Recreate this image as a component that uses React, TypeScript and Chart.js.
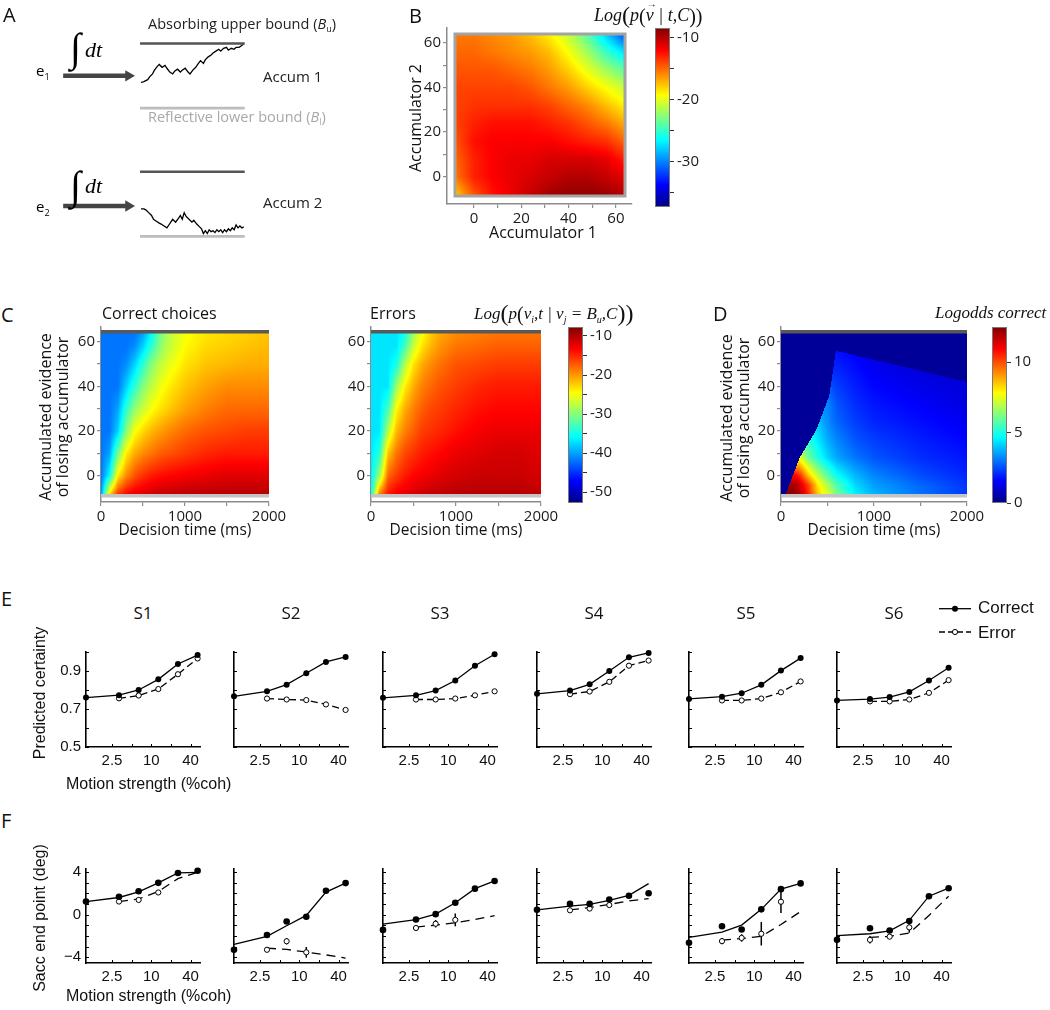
import React, { useEffect, useRef } from 'react';
import { Chart, registerables } from 'chart.js';

Chart.register(...registerables);

const SANS = '"Open Sans", "Noto Sans", "DejaVu Sans", sans-serif';
const ARIAL = '"Liberation Sans", Arial, Helvetica, sans-serif';
const SERIF = '"Liberation Serif", "DejaVu Serif", "Times New Roman", serif';

/* ================= Panel A (schematic traces) ================= */
const A_WALK1_X = [140,143,147,149,152,154,157,159,162,165,167,170,173,175,178,181,183,186,189,191,194,197,199,202,205,207,210,213,215,218,221,223,226,229,231,234,237,239,242,245,247];
const A_WALK1_Y = [80,79,77,74,71,67,63,61,64,62,65,69,71,68,66,69,67,65,69,71,67,64,61,57,60,56,53,51,49,47,45,47,44,43,46,44,45,43,43,41,39];
const A_WALK2_X = [140,143,145,148,151,153,156,159,161,164,167,169,171,173,176,179,181,183,185,187,190,193,195,198,201,203,205,207,209,211,213,215,217,219,221,223,225,227,229,231,233,235,237,239,241,243,245,247];
const A_WALK2_Y = [213,213,214,217,220,224,226,228,229,231,233,230,227,224,227,223,220,224,217,221,224,227,225,229,232,234,239,236,239,235,237,236,238,235,237,235,238,235,237,234,236,233,235,230,233,231,233,232];
const A_BOUND_X = [139, 248];
const A_UPPER_Y = [39, 174];
const A_LOWER_Y = [107, 242];
const A_ARROW_X = [59, 127];
const A_ARROW_Y = [73, 210];

/* ================= Panel B ================= */
const B_ACC1 = [-8, 0, 8, 16, 24, 32, 40, 48, 56, 64];
const B_ACC2 = [64, 56, 48, 40, 32, 24, 16, 8, 0, -8.5];
const B_LOGP = [
  [-15.5, -15.5, -16, -16.5, -17.5, -19, -21, -24, -28, -32],
  [-15, -15, -15.5, -16, -16.5, -17.5, -19.5, -22, -25, -27.5],
  [-14.5, -14.5, -14.5, -15, -15.5, -16.5, -18, -20, -22, -24],
  [-14, -14, -14, -14, -14.5, -15.5, -16.5, -18, -19.5, -21],
  [-14, -13.5, -13.5, -13.5, -13.5, -14, -15, -16, -17.5, -19],
  [-14, -13, -12.5, -12.5, -12.5, -13, -13.5, -14.5, -15.5, -17],
  [-14.5, -12.5, -12, -12, -12, -12, -12.5, -13, -13.5, -15],
  [-15, -13, -12, -11.5, -11.5, -11, -11, -11, -11.5, -13],
  [-15.5, -13, -12, -11.5, -11, -10.5, -10, -10, -10.5, -11.5],
  [-18, -14.5, -12.5, -11.5, -10.5, -9.5, -9, -9, -9.2, -10],
];
const B_CRANGE = [-37.3, -8.5];
const B_TICKS = [0, 10, 20, 30, 40, 50, 60];
const B_CB_TICKS = [-35, -30, -25, -20, -15, -10];

/* ================= Panel C ================= */
const C_TIME = [0, 100, 200, 300, 400, 500, 600, 700, 800, 1000, 1250, 1500, 1750, 2000];
const C_EVID = [64, 58, 50, 40, 30, 20, 10, 0, -9];
const C_CORRECT = [
  [-42, -42, -42, -42, -42, -40, -36, -31, -28, -25, -23.5, -23, -22.5, -22],
  [-42, -42, -42, -42, -41, -38, -34, -30, -27.5, -24.5, -23, -22.5, -22, -21.5],
  [-42, -42, -42, -41, -38, -34, -30, -27.5, -26, -23.5, -22, -21.5, -21, -21],
  [-42, -42, -42, -38, -34, -30, -27.5, -25.5, -24, -22, -20.5, -19.5, -19.5, -19.5],
  [-42, -42, -40, -34, -29.5, -27, -25, -23.5, -22.5, -20.5, -19, -18, -18, -18],
  [-42, -42, -38, -30, -25, -23, -21.5, -20.5, -19.5, -18, -17, -16.5, -16, -16],
  [-42, -40, -31, -24, -21, -19.5, -18.5, -17.5, -17, -16, -15, -14.5, -14.5, -14.5],
  [-42, -36, -24, -19.5, -17, -15.5, -14.5, -14, -13.5, -13, -12.5, -12, -12, -12],
  [-41, -22, -15, -13, -12, -11.5, -11, -10.5, -10.5, -10, -10, -10, -10, -10],
];
const C_ERRORS = [
  [-37, -37, -37, -37, -35, -29, -25, -22.5, -21, -19.5, -19, -18.5, -18.5, -18.5],
  [-37, -37, -37, -37, -33, -27, -23.5, -21.5, -20, -18.5, -18, -17.5, -17.5, -17.5],
  [-37, -37, -37, -35, -28, -23.5, -21, -19.5, -18.5, -17, -16.5, -16, -16, -16],
  [-37, -37, -37, -29, -24, -21, -19, -18, -17, -16, -15, -14.5, -14.5, -14.5],
  [-37, -37, -33, -24.5, -21, -19, -17.5, -16.5, -16, -15, -14, -13.5, -13.5, -13.5],
  [-37, -37, -28, -21.5, -19, -17.5, -16, -15.5, -15, -14, -13, -12.5, -12.5, -12.5],
  [-37, -34, -22, -18.5, -16.5, -15.5, -14.5, -14, -13.5, -12.5, -12, -11.5, -11.5, -12],
  [-37, -29, -18, -16, -14.5, -13.5, -13, -12.5, -12, -11.5, -11, -11, -11, -11.5],
  [-36, -18, -14, -12.5, -12, -11.5, -11, -10.5, -10.5, -10, -10, -10, -10, -10.5],
];
const C_CRANGE = [-52.8, -7.7];
const C_CB_TICKS = [-50, -45, -40, -35, -30, -25, -20, -15, -10];

/* ================= Panel D ================= */
const D_TIME = [0, 50, 100, 150, 200, 250, 300, 400, 500, 600, 800, 1000, 1500, 2000];
const D_EVID = [64, 56, 48, 40, 32, 24, 16, 8, 0, -4, -9];
const D_LOGODDS = [
  [1.5, 1.5, 1.5, 1.5, 1.5, 1.5, 1.5, 1.5, 1.5, 1.5, 1.3, 1.1, 0.8, 0.7],
  [1.7, 1.7, 1.7, 1.7, 1.7, 1.7, 1.7, 1.7, 1.7, 1.7, 1.5, 1.2, 0.9, 0.8],
  [2.0, 2.0, 2.0, 2.0, 2.0, 2.0, 2.0, 2.0, 2.0, 2.0, 1.7, 1.4, 1.1, 0.9],
  [2.7, 2.7, 2.7, 2.7, 2.7, 2.7, 2.7, 2.7, 2.7, 2.3, 1.9, 1.6, 1.3, 1.1],
  [3.2, 3.2, 3.2, 3.2, 3.2, 3.2, 3.2, 3.2, 3.2, 2.6, 2.1, 1.8, 1.5, 1.2],
  [4.0, 4.0, 4.0, 4.0, 4.0, 4.0, 4.0, 4.0, 3.3, 2.8, 2.3, 2.0, 1.7, 1.4],
  [5.2, 5.2, 5.2, 5.2, 5.2, 5.2, 5.2, 4.4, 3.7, 3.2, 2.6, 2.3, 1.9, 1.6],
  [7.5, 7.5, 7.5, 7.5, 7.5, 6.8, 6.0, 5.0, 4.2, 3.6, 3.0, 2.6, 2.1, 1.8],
  [11, 11, 11, 11, 10.5, 9.5, 8.5, 7.0, 5.8, 4.8, 3.8, 3.2, 2.5, 2.0],
  [12, 12, 12, 12, 11.5, 10.8, 10, 8.0, 6.8, 5.6, 4.2, 3.5, 2.8, 2.2],
  [12.5, 12.5, 12.5, 12.3, 12, 11.3, 10.5, 8.5, 7.5, 6.2, 4.6, 3.8, 3.0, 2.3],
];
const D_EDGE_TIME = [45, 200, 380, 520, 590, 2000];
const D_EDGE_EVID = [-9, 8, 20.5, 36, 56, 42];
const D_OUTSIDE = 0.3;
const D_CRANGE = [0, 12.5];
const D_CB_TICKS = [0, 5, 10];
const CD_X_TICKS = [0, 500, 1000, 1500, 2000];
const CD_Y_TICKS = [0, 10, 20, 30, 40, 50, 60];

/* ================= Panels E & F ================= */
const SUBJECTS = ['S1', 'S2', 'S3', 'S4', 'S5', 'S6'];
const COH = [0, 3.2, 6.4, 12.8, 25.6, 51.2];
const COH_ERR = [3.2, 6.4, 12.8, 25.6, 51.2];
const X_TICK_VALUES = [2.5, 5, 10, 20, 40];
const X_TICK_LABELS = ['2.5', '', '10', '', '40'];
const E_Y_TICKS = [0.5, 0.6, 0.7, 0.8, 0.9, 1.0];
const E_Y_LABELS = ['0.5', '', '0.7', '', '0.9', ''];
const F_Y_TICKS = [-4, -3, -2, -1, 0, 1, 2, 3, 4];
const F_Y_LABELS = ['\u22124', '', '', '', '0', '', '', '', '4'];

const E_CORRECT = [
  [0.76, 0.773, 0.80, 0.856, 0.937, 0.984],
  [0.767, 0.793, 0.828, 0.888, 0.948, 0.974],
  [0.759, 0.772, 0.797, 0.85, 0.928, 0.988],
  [0.78, 0.797, 0.83, 0.9, 0.972, 0.995],
  [0.753, 0.765, 0.783, 0.827, 0.902, 0.968],
  [0.745, 0.752, 0.763, 0.79, 0.85, 0.917],
];
const E_ERROR = [
  [0.756, 0.771, 0.805, 0.883, 0.966],
  [0.755, 0.75, 0.747, 0.724, 0.695],
  [0.75, 0.75, 0.755, 0.772, 0.793],
  [0.778, 0.792, 0.843, 0.928, 0.955],
  [0.745, 0.745, 0.755, 0.788, 0.845],
  [0.74, 0.74, 0.75, 0.785, 0.852],
];
const F_CORRECT_MODEL = [
  [1.22, 1.6, 2.13, 2.97, 3.9, 3.95],
  [-2.8, -2.04, -1.05, -0.08, 2.1, 2.95],
  [-0.9, -0.47, 0.04, 1.1, 2.43, 3.15],
  [0.44, 0.8, 0.95, 1.34, 1.8, 2.9],
  [-2.13, -1.64, -0.99, 0.49, 2.38, 2.92],
  [-1.98, -1.8, -1.53, -0.54, 1.72, 2.47],
];
const F_CORRECT_DATA = [
  [1.22, 1.67, 2.19, 2.97, 3.9, 4.1],
  [-3.3, -1.92, -0.65, -0.2, 2.23, 2.95],
  [-1.44, -0.47, 0.04, 1.1, 2.43, 3.15],
  [0.44, 1.0, 1.0, 1.4, 1.76, 2.0],
  [-2.64, -1.1, -1.4, 0.49, 2.38, 2.92],
  [-2.37, -1.29, -1.5, -0.6, 1.72, 2.47],
];
const F_ERROR_MODEL = [
  [1.22, 1.46, 2.16, 3.37, 3.97],
  [-3.15, -3.27, -3.51, -3.78, -4.08],
  [-1.17, -1.0, -0.77, -0.47, -0.1],
  [0.44, 0.65, 0.95, 1.28, 1.5],
  [-2.4, -2.25, -2.04, -0.93, 0.28],
  [-2.13, -2.04, -1.74, -0.08, 1.72],
];
const F_ERROR_DATA = [
  [1.22, 1.37, 2.07],
  [-3.3, -2.5, -3.54],
  [-1.26, -0.86, -0.5],
  [0.4, 0.56, 0.89],
  [-2.49, -2.19, -1.8, 1.2],
  [-2.37, -2.07, -1.2],
];
const F_ERROR_SEM = [
  [0.1, 0.22, 0.22],
  [0.1, 0.3, 0.5],
  [0.15, 0.35, 0.6],
  [0.1, 0.12, 0.12],
  [0.3, 0.35, 1.1, 1.05],
  [0.35, 0.22, 0.5],
];

/* ================= layout constants ================= */
const EF_LEFTS = [86, 234, 383, 537, 689, 837];
const EF_W = 114;
const E_TOP = 648, E_BOTTOM = 747;
const F_TOP = 865, F_BOTTOM = 963;

/* ================= helpers ================= */
const clamp01 = (v: number) => (v < 0 ? 0 : v > 1 ? 1 : v);
function jet(t: number) {
  t = clamp01(t);
  return [
    Math.round(255 * clamp01(1.5 - Math.abs(4 * t - 3))),
    Math.round(255 * clamp01(1.5 - Math.abs(4 * t - 2))),
    Math.round(255 * clamp01(1.5 - Math.abs(4 * t - 1))),
  ];
}
const JET_STOPS: [number, string][] = [
  [0, 'rgb(0,0,128)'], [0.125, 'rgb(0,0,255)'], [0.375, 'rgb(0,255,255)'],
  [0.625, 'rgb(255,255,0)'], [0.875, 'rgb(255,0,0)'], [1, 'rgb(128,0,0)'],
];
const xpos = (c: number) => (c === 0 ? 0 : Math.log2(c));

type Box = { left: number; top: number; width: number; height: number };

function ChartCanvas({ box, make }: { box: Box; make: () => any }) {
  const ref = useRef<HTMLCanvasElement | null>(null);
  useEffect(() => {
    const chart = new Chart(ref.current as HTMLCanvasElement, make());
    return () => chart.destroy();
  }, []);
  return (
    <canvas
      ref={ref}
      width={box.width}
      height={box.height}
      style={{ position: 'absolute', left: box.left, top: box.top, width: box.width, height: box.height }}
    />
  );
}

function Txt({ x, y, anchor = 'left', rotate = false, style = {}, children }: any) {
  const tx = anchor === 'center' ? '-50%' : anchor === 'right' ? '-100%' : '0';
  return (
    <div
      style={{
        position: 'absolute', left: x, top: y, whiteSpace: 'pre', lineHeight: 1,
        transform: `translate(${rotate ? '-50%' : tx}, -50%)${rotate ? ' rotate(-90deg)' : ''}`,
        ...style,
      }}
    >
      {children}
    </div>
  );
}

const baseOptions = (padding: any) => ({
  responsive: false,
  animation: false,
  devicePixelRatio: 1,
  events: [],
  layout: { padding },
  plugins: { legend: { display: false }, tooltip: { enabled: false }, title: { display: false } },
});

/* ---------- heatmap ---------- */
function edgeAt(t: number, ET: number[], EY: number[]) {
  if (t < ET[0]) return -Infinity;
  for (let k = 0; k < ET.length - 1; k++) {
    if (t <= ET[k + 1]) return EY[k] + ((t - ET[k]) / (ET[k + 1] - ET[k])) * (EY[k + 1] - EY[k]);
  }
  return EY[EY.length - 1];
}

function makeHeatPlugin(spec: any) {
  return {
    id: 'heat',
    beforeDatasetsDraw(chart: any) {
      const ctx = chart.ctx;
      const sx = chart.scales.x, sy = chart.scales.y;
      const X = spec.xs, Y = spec.ys, V = spec.values;
      const px0 = Math.round(sx.getPixelForValue(X[0]));
      const px1 = Math.round(sx.getPixelForValue(X[X.length - 1]));
      const py0 = Math.round(sy.getPixelForValue(Y[0]));
      const py1 = Math.round(sy.getPixelForValue(Y[Y.length - 1]));
      const w = px1 - px0, h = py1 - py0;
      if (w <= 0 || h <= 0) return;
      const off = document.createElement('canvas');
      off.width = w; off.height = h;
      const octx = off.getContext('2d') as CanvasRenderingContext2D;
      const img = octx.createImageData(w, h);
      const ci: number[] = [], cf: number[] = [], ce: number[] = [];
      for (let i = 0; i < w; i++) {
        const vx = sx.getValueForPixel(px0 + i + 0.5);
        let c = 0;
        while (c < X.length - 2 && vx > X[c + 1]) c++;
        ci.push(c);
        cf.push(clamp01((vx - X[c]) / (X[c + 1] - X[c])));
        ce.push(spec.edgeT ? edgeAt(vx, spec.edgeT, spec.edgeY) : Infinity);
      }
      for (let j = 0; j < h; j++) {
        const vy = sy.getValueForPixel(py0 + j + 0.5);
        let r = 0;
        while (r < Y.length - 2 && vy < Y[r + 1]) r++;
        const fy = clamp01((Y[r] - vy) / (Y[r] - Y[r + 1]));
        for (let i = 0; i < w; i++) {
          let v: number;
          if (vy > ce[i]) {
            v = spec.outside;
          } else {
            const c = ci[i], fx = cf[i];
            const a = V[r][c] * (1 - fx) + V[r][c + 1] * fx;
            const b = V[r + 1][c] * (1 - fx) + V[r + 1][c + 1] * fx;
            v = a * (1 - fy) + b * fy;
          }
          const rgb = jet((v - spec.cmin) / (spec.cmax - spec.cmin));
          const k = (j * w + i) * 4;
          img.data[k] = rgb[0]; img.data[k + 1] = rgb[1]; img.data[k + 2] = rgb[2]; img.data[k + 3] = 255;
        }
      }
      octx.putImageData(img, 0, 0);
      ctx.save();
      ctx.drawImage(off, px0, py0);
      if (spec.frame) {
        ctx.strokeStyle = '#a3a3a3';
        ctx.lineWidth = 3;
        ctx.strokeRect(px0, py0, w, h);
      }
      if (spec.bounds) {
        const yt = sy.getPixelForValue(Y[0]);
        const yb = sy.getPixelForValue(Y[Y.length - 1]);
        ctx.lineWidth = 3.5;
        ctx.strokeStyle = '#595959';
        ctx.beginPath(); ctx.moveTo(px0, yt - 1); ctx.lineTo(px1, yt - 1); ctx.stroke();
        ctx.strokeStyle = '#c4c4c4';
        ctx.beginPath(); ctx.moveTo(px0, yb); ctx.lineTo(px1, yb); ctx.stroke();
      }
      ctx.restore();
    },
  };
}

const HP = { l: 60, t: 16, r: 36, b: 40 };
const H_YW = 50, H_XH = 34;

function heatAxis(min: number, max: number, ticks: number[], every: number, isX: boolean) {
  return {
    type: 'linear', min, max,
    position: isX ? 'bottom' : 'left',
    afterBuildTicks: (s: any) => { s.ticks = ticks.map((v) => ({ value: v })); },
    afterFit: (s: any) => { if (isX) s.height = H_XH; else s.width = H_YW; },
    border: { display: true, color: '#8c8c8c', width: 1.5 },
    grid: { display: true, drawOnChartArea: false, drawTicks: true, tickLength: 4, color: '#8c8c8c', lineWidth: 1.2 },
    ticks: {
      autoSkip: false, maxRotation: 0, padding: 2, color: '#1a1a1a',
      font: { family: SANS, size: 15 },
      callback: (v: number) => (Math.abs(v % every) < 1e-9 ? String(v) : ''),
    },
  };
}

function heatChart(area: number[], spec: any, axes: any) {
  const [l, t, r, b] = area;
  const box = { left: l - HP.l, top: t - HP.t, width: r - l + HP.l + HP.r, height: b - t + HP.t + HP.b };
  const make = () => ({
    type: 'scatter',
    data: { datasets: [] },
    plugins: [makeHeatPlugin(spec)],
    options: {
      ...baseOptions({ left: HP.l - H_YW, top: HP.t, right: HP.r, bottom: HP.b - H_XH }),
      scales: {
        x: heatAxis(axes.xmin, axes.xmax, axes.xticks, axes.xevery, true),
        y: heatAxis(axes.ymin, axes.ymax, axes.yticks, axes.yevery, false),
      },
    },
  });
  return { box, make };
}

/* ---------- colour bar ---------- */
const CP = { l: 6, t: 16, r: 60, b: 16 };
function colorbar(area: number[], range: number[], ticks: number[], every: number) {
  const [l, t, r, b] = area;
  const box = { left: l - CP.l, top: t - CP.t, width: r - l + CP.l + CP.r, height: b - t + CP.t + CP.b };
  const plugin = {
    id: 'cbar',
    beforeDatasetsDraw(chart: any) {
      const { left, right, top, bottom } = chart.chartArea;
      const ctx = chart.ctx;
      const g = ctx.createLinearGradient(0, bottom, 0, top);
      JET_STOPS.forEach(([s, c]) => g.addColorStop(s, c));
      ctx.save();
      ctx.fillStyle = g;
      ctx.fillRect(left, top, right - left, bottom - top);
      ctx.strokeStyle = '#7a7a7a';
      ctx.lineWidth = 1;
      ctx.strokeRect(left + 0.5, top + 0.5, right - left - 1, bottom - top - 1);
      ctx.restore();
    },
  };
  const make = () => ({
    type: 'scatter',
    data: { datasets: [] },
    plugins: [plugin],
    options: {
      ...baseOptions({ left: CP.l, top: CP.t, right: CP.r - 50, bottom: CP.b }),
      scales: {
        x: { display: false, min: 0, max: 1 },
        y: {
          type: 'linear', position: 'right', min: range[0], max: range[1],
          afterBuildTicks: (s: any) => { s.ticks = ticks.map((v) => ({ value: v })); },
          afterFit: (s: any) => { s.width = 50; },
          border: { display: false },
          grid: { display: true, drawOnChartArea: false, drawTicks: true, tickLength: 4, color: '#333', lineWidth: 1 },
          ticks: {
            autoSkip: false, padding: 3, color: '#1a1a1a', font: { family: SANS, size: 15 },
            callback: (v: number) => (Math.abs(v % every) < 1e-9 ? String(v) : ''),
          },
        },
      },
    },
  });
  return { box, make };
}

/* ---------- E / F line charts ---------- */
const EP = { l: 46, t: 10, r: 14, b: 32 };
const EF_YW = 40, EF_XH = 28;

function efChart(kind: 'E' | 'F', s: number) {
  const isE = kind === 'E';
  const left = EF_LEFTS[s];
  const top = isE ? E_TOP : F_TOP;
  const bottom = isE ? E_BOTTOM : F_BOTTOM;
  const box = { left: left - EP.l, top: top - EP.t, width: EF_W + EP.l + EP.r, height: bottom - top + EP.t + EP.b };
  const yTicks = isE ? E_Y_TICKS : F_Y_TICKS;
  const yLabels = isE ? E_Y_LABELS : F_Y_LABELS;
  const showY = s === 0;

  const datasets: any[] = [];
  if (isE) {
    datasets.push({
      data: COH.map((c, i) => ({ x: xpos(c), y: E_CORRECT[s][i] })),
      showLine: true, borderColor: '#000', borderWidth: 1.3, pointRadius: 3,
      pointBackgroundColor: '#000', pointBorderWidth: 0, clip: false,
    });
    datasets.push({
      data: COH_ERR.map((c, i) => ({ x: xpos(c), y: E_ERROR[s][i] })),
      showLine: true, borderColor: '#000', borderWidth: 1.3, borderDash: [7, 4], pointRadius: 2.6,
      pointBackgroundColor: '#fff', pointBorderColor: '#000', pointBorderWidth: 1, clip: false,
    });
  } else {
    datasets.push({
      data: COH.map((c, i) => ({ x: xpos(c), y: F_CORRECT_DATA[s][i] })),
      showLine: false, pointRadius: 3.3, pointBackgroundColor: '#000', pointBorderWidth: 0, clip: false,
    });
    datasets.push({
      data: F_ERROR_DATA[s].map((v, i) => ({ x: xpos(COH_ERR[i]), y: v })),
      showLine: false, pointRadius: 2.6, pointBackgroundColor: '#fff', pointBorderColor: '#000',
      pointBorderWidth: 1, clip: false,
    });
    datasets.push({
      data: COH.map((c, i) => ({ x: xpos(c), y: F_CORRECT_MODEL[s][i] })),
      showLine: true, borderColor: '#000', borderWidth: 1.3, pointRadius: 0, clip: false,
    });
    datasets.push({
      data: COH_ERR.map((c, i) => ({ x: xpos(c), y: F_ERROR_MODEL[s][i] })),
      showLine: true, borderColor: '#000', borderWidth: 1.3, borderDash: [9, 6], pointRadius: 0, clip: false,
    });
  }

  const plugin = {
    id: 'efextra',
    beforeDatasetsDraw(chart: any) {
      const ctx = chart.ctx;
      const sx = chart.scales.x, sy = chart.scales.y;
      const { left: L, bottom: B } = chart.chartArea;
      ctx.save();
      ctx.strokeStyle = '#000';
      ctx.lineWidth = 1;
      X_TICK_VALUES.forEach((v) => {
        const p = Math.round(sx.getPixelForValue(Math.log2(v))) + 0.5;
        ctx.beginPath(); ctx.moveTo(p, B); ctx.lineTo(p, B - 3); ctx.stroke();
      });
      yTicks.forEach((v) => {
        const p = Math.round(sy.getPixelForValue(v)) + 0.5;
        ctx.beginPath(); ctx.moveTo(L, p); ctx.lineTo(L + 3, p); ctx.stroke();
      });
      if (!isE) {
        ctx.lineWidth = 1.5;
        F_ERROR_DATA[s].forEach((v, i) => {
          const e = F_ERROR_SEM[s][i];
          const px = sx.getPixelForValue(xpos(COH_ERR[i]));
          ctx.beginPath();
          ctx.moveTo(px, sy.getPixelForValue(v - e));
          ctx.lineTo(px, sy.getPixelForValue(v + e));
          ctx.stroke();
        });
      }
      ctx.restore();
    },
  };

  const make = () => ({
    type: 'scatter',
    data: { datasets },
    plugins: [plugin],
    options: {
      ...baseOptions({ left: EP.l - EF_YW, top: EP.t, right: EP.r, bottom: EP.b - EF_XH }),
      scales: {
        x: {
          type: 'linear', min: 0, max: 5.8,
          afterBuildTicks: (sc: any) => { sc.ticks = X_TICK_VALUES.map((v) => ({ value: Math.log2(v) })); },
          afterFit: (sc: any) => { sc.height = EF_XH; },
          border: { display: true, color: '#000', width: 1.6 },
          grid: { display: true, drawOnChartArea: false, drawTicks: false },
          ticks: {
            autoSkip: false, maxRotation: 0, padding: 5, color: '#111',
            font: { family: ARIAL, size: 15 },
            callback: (_v: number, i: number) => X_TICK_LABELS[i],
          },
        },
        y: {
          type: 'linear',
          min: isE ? 0.5 : -4.54, max: isE ? 1.0 : 4.27,
          afterBuildTicks: (sc: any) => { sc.ticks = yTicks.map((v) => ({ value: v })); },
          afterFit: (sc: any) => { sc.width = EF_YW; },
          border: { display: true, color: '#000', width: 1.6 },
          grid: { display: true, drawOnChartArea: false, drawTicks: false },
          ticks: {
            autoSkip: false, padding: 5, color: '#111',
            font: { family: ARIAL, size: 15 },
            callback: (_v: number, i: number) => (showY ? yLabels[i] : ''),
          },
        },
      },
    },
  });
  return { box, make };
}

/* ---------- Panel A chart ---------- */
function panelA() {
  const box = { left: 0, top: 0, width: 330, height: 260 };
  const line = (xs: number[], ys: number[], color: string, width: number) => ({
    data: xs.map((x, i) => ({ x, y: ys[i] })),
    showLine: true, borderColor: color, borderWidth: width, pointRadius: 0, clip: false,
  });
  const arrow = (y: number) => ({
    data: A_ARROW_X.map((x) => ({ x, y })),
    showLine: true, borderColor: '#444', borderWidth: 4.5, clip: false,
    pointRadius: [0, 6.5], pointStyle: 'triangle', rotation: 90,
    pointBackgroundColor: '#444', pointBorderWidth: 0,
  });
  const datasets = [
    line(A_BOUND_X, [A_UPPER_Y[0], A_UPPER_Y[0]], '#555', 2.6),
    line(A_BOUND_X, [A_LOWER_Y[0], A_LOWER_Y[0]], '#bdbdbd', 2.6),
    line(A_BOUND_X, [A_UPPER_Y[1], A_UPPER_Y[1]], '#555', 2.6),
    line(A_BOUND_X, [A_LOWER_Y[1], A_LOWER_Y[1]], '#bdbdbd', 2.6),
    line(A_WALK1_X, A_WALK1_Y, '#000', 1.3),
    line(A_WALK2_X, A_WALK2_Y, '#000', 1.3),
    arrow(A_ARROW_Y[0]),
    arrow(A_ARROW_Y[1]),
  ];
  const make = () => ({
    type: 'scatter',
    data: { datasets },
    options: {
      ...baseOptions(0),
      scales: {
        x: { display: false, min: 0, max: 330 },
        y: { display: false, min: 0, max: 260, reverse: true },
      },
    },
  });
  return { box, make };
}

/* ---------- legend chart (E) ---------- */
function legendChart() {
  const box = { left: 936, top: 598, width: 38, height: 44 };
  const make = () => ({
    type: 'scatter',
    data: {
      datasets: [
        {
          data: [{ x: 0, y: 10.7 }, { x: 0.5, y: 10.7 }, { x: 1, y: 10.7 }],
          showLine: true, borderColor: '#000', borderWidth: 1.3, clip: false,
          pointRadius: [0, 3, 0], pointBackgroundColor: '#000', pointBorderWidth: 0,
        },
        {
          data: [{ x: 0, y: 34 }, { x: 0.5, y: 34 }, { x: 1, y: 34 }],
          showLine: true, borderColor: '#000', borderWidth: 1.3, borderDash: [6, 3], clip: false,
          pointRadius: [0, 2.6, 0], pointBackgroundColor: '#fff', pointBorderColor: '#000', pointBorderWidth: 1,
        },
      ],
    },
    options: {
      ...baseOptions({ left: 3, right: 3, top: 0, bottom: 0 }),
      scales: {
        x: { display: false, min: 0, max: 1 },
        y: { display: false, min: 0, max: 44, reverse: true },
      },
    },
  });
  return { box, make };
}

/* ---------- build all charts ---------- */
const CHARTS: { box: Box; make: () => any }[] = [];
CHARTS.push(panelA());
CHARTS.push(
  heatChart([447, 28, 632, 204], { xs: B_ACC1, ys: B_ACC2, values: B_LOGP, cmin: B_CRANGE[0], cmax: B_CRANGE[1], frame: true },
    { xmin: -11.4, xmax: 66.8, xticks: B_TICKS, xevery: 20, ymin: -12.3, ymax: 66.7, yticks: B_TICKS, yevery: 20 })
);
CHARTS.push(colorbar([655, 28, 670, 207], B_CRANGE, B_CB_TICKS, 10));
const CD_AXES = { xmin: 0, xmax: 2000, xticks: CD_X_TICKS, xevery: 1000, ymin: -11.8, ymax: 66.6, yticks: CD_Y_TICKS, yevery: 20 };
CHARTS.push(
  heatChart([101, 327, 269, 502], { xs: C_TIME, ys: C_EVID, values: C_CORRECT, cmin: C_CRANGE[0], cmax: C_CRANGE[1], bounds: true }, CD_AXES)
);
CHARTS.push(
  heatChart([371, 327, 541, 502], { xs: C_TIME, ys: C_EVID, values: C_ERRORS, cmin: C_CRANGE[0], cmax: C_CRANGE[1], bounds: true }, CD_AXES)
);
CHARTS.push(colorbar([568, 327, 583, 503], C_CRANGE, C_CB_TICKS, 10));
CHARTS.push(
  heatChart([781, 327, 967, 502], {
    xs: D_TIME, ys: D_EVID, values: D_LOGODDS, cmin: D_CRANGE[0], cmax: D_CRANGE[1], bounds: true,
    edgeT: D_EDGE_TIME, edgeY: D_EDGE_EVID, outside: D_OUTSIDE,
  }, CD_AXES)
);
CHARTS.push(colorbar([992, 327, 1007, 503], D_CRANGE, D_CB_TICKS, 5));
SUBJECTS.forEach((_s, i) => CHARTS.push(efChart('E', i)));
SUBJECTS.forEach((_s, i) => CHARTS.push(efChart('F', i)));
CHARTS.push(legendChart());

/* ---------- text pieces ---------- */
const big = (ch: string, size = 24) => (
  <span style={{ fontSize: size, fontStyle: 'normal', fontFamily: SERIF, verticalAlign: '-2px' }}>{ch}</span>
);
const vecV = (
  <span style={{ position: 'relative', display: 'inline-block' }}>
    v
    <span style={{ position: 'absolute', left: 1, top: -7, fontSize: 10, fontStyle: 'normal' }}>{'\u2192'}</span>
  </span>
);

export default function App() {
  const letter = { fontFamily: SANS, fontSize: 20, color: '#111' };
  const lab16 = { fontFamily: SANS, fontSize: 16, color: '#111' };
  const lab15 = { fontFamily: SANS, fontSize: 15.5, color: '#111' };
  const arial16 = { fontFamily: ARIAL, fontSize: 16, color: '#111' };
  const it = { fontFamily: SERIF, fontStyle: 'italic', fontSize: 18, color: '#111' };
  return (
    <div style={{ position: 'absolute', left: 0, top: 0, width: 1050, height: 1010, background: '#fff', overflow: 'hidden' }}>
      {CHARTS.map((c, i) => (
        <ChartCanvas key={i} box={c.box} make={c.make} />
      ))}

      {/* Panel A */}
      <Txt x={3} y={15} style={letter}>A</Txt>
      <Txt x={70} y={48} style={{ fontFamily: SERIF, fontSize: 40 }}>{'\u222B'}</Txt>
      <Txt x={85} y={50} style={{ fontFamily: SERIF, fontStyle: 'italic', fontSize: 22 }}>dt</Txt>
      <Txt x={36} y={72} style={{ fontFamily: SANS, fontSize: 15 }}>e<sub style={{ fontSize: 9 }}>1</sub></Txt>
      <Txt x={148} y={25} style={{ fontFamily: SANS, fontSize: 14.5, color: '#222' }}>
        Absorbing upper bound (<i>B</i><sub style={{ fontSize: 9 }}>u</sub>)
      </Txt>
      <Txt x={263} y={76} style={{ fontFamily: SANS, fontSize: 15, color: '#222' }}>Accum 1</Txt>
      <Txt x={148} y={118} style={{ fontFamily: SANS, fontSize: 14.5, color: '#a8a8a8' }}>
        Reflective lower bound (<i>B</i><sub style={{ fontSize: 9 }}>l</sub>)
      </Txt>
      <Txt x={70} y={186} style={{ fontFamily: SERIF, fontSize: 40 }}>{'\u222B'}</Txt>
      <Txt x={85} y={186} style={{ fontFamily: SERIF, fontStyle: 'italic', fontSize: 22 }}>dt</Txt>
      <Txt x={36} y={208} style={{ fontFamily: SANS, fontSize: 15 }}>e<sub style={{ fontSize: 9 }}>2</sub></Txt>
      <Txt x={263} y={202} style={{ fontFamily: SANS, fontSize: 15, color: '#222' }}>Accum 2</Txt>

      {/* Panel B */}
      <Txt x={409} y={16} style={letter}>B</Txt>
      <Txt x={415} y={118} rotate style={lab16}>Accumulator 2</Txt>
      <Txt x={543} y={232} anchor="center" style={lab16}>Accumulator 1</Txt>
      <Txt x={594} y={15} style={it}>
        Log{big('(')}p{big('(', 20)}{vecV} | t,C{big('))', 20)}
      </Txt>

      {/* Panel C */}
      <Txt x={1} y={315} style={letter}>C</Txt>
      <Txt x={102} y={313} style={lab16}>Correct choices</Txt>
      <Txt x={370} y={313} style={lab16}>Errors</Txt>
      <Txt x={474} y={313} style={{ ...it, fontSize: 17 }}>
        Log{big('(')}p{big('(', 20)}v<sub style={{ fontSize: 10 }}>i</sub>,t | v<sub style={{ fontSize: 10 }}>j</sub> = B<sub style={{ fontSize: 10 }}>u</sub>,C{big('))', 24)}
      </Txt>
      <Txt x={54} y={417} rotate style={{ ...lab16, textAlign: 'center', lineHeight: '17px' }}>
        {'Accumulated evidence\nof losing accumulator'}
      </Txt>
      <Txt x={185} y={530} anchor="center" style={lab15}>Decision time (ms)</Txt>
      <Txt x={456} y={530} anchor="center" style={lab15}>Decision time (ms)</Txt>

      {/* Panel D */}
      <Txt x={713} y={314} style={letter}>D</Txt>
      <Txt x={735} y={418} rotate style={{ ...lab16, textAlign: 'center', lineHeight: '17px' }}>
        {'Accumulated evidence\nof losing accumulator'}
      </Txt>
      <Txt x={874} y={530} anchor="center" style={lab15}>Decision time (ms)</Txt>
      <Txt x={935} y={312} style={{ ...it, fontSize: 17 }}>Logodds correct</Txt>

      {/* Panel E */}
      <Txt x={1} y={599} style={letter}>E</Txt>
      {SUBJECTS.map((s, i) => (
        <Txt key={s} x={EF_LEFTS[i] + 57} y={612} anchor="center" style={{ fontFamily: SANS, fontSize: 17, color: '#111' }}>{s}</Txt>
      ))}
      <Txt x={40} y={693} rotate style={arial16}>Predicted certainty</Txt>
      <Txt x={66} y={784} style={arial16}>Motion strength (%coh)</Txt>
      <Txt x={978} y={607} style={{ fontFamily: ARIAL, fontSize: 17, color: '#111' }}>Correct</Txt>
      <Txt x={978} y={632} style={{ fontFamily: ARIAL, fontSize: 17, color: '#111' }}>Error</Txt>

      {/* Panel F */}
      <Txt x={1} y={821} style={letter}>F</Txt>
      <Txt x={40} y={918} rotate style={arial16}>Sacc end point (deg)</Txt>
      <Txt x={66} y={996} style={arial16}>Motion strength (%coh)</Txt>
    </div>
  );
}
